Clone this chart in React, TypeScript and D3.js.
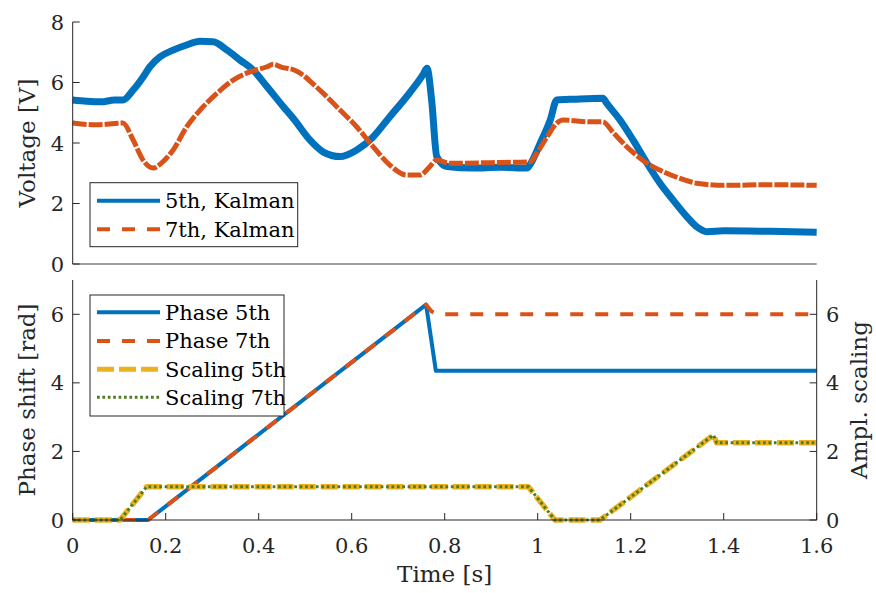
import { useEffect, useRef } from 'react';
import * as d3 from 'd3';

// top panel: voltage estimates (Kalman)
const kalman5Time = [0, 0.03, 0.06, 0.09, 0.108, 0.13, 0.15, 0.166, 0.188, 0.216, 0.245, 0.274, 0.302, 0.332, 0.36, 0.388, 0.418, 0.453, 0.475, 0.51, 0.539, 0.575, 0.611, 0.646, 0.682, 0.718, 0.753, 0.762, 0.772, 0.783, 0.805, 0.86, 0.92, 0.977, 0.984, 1.005, 1.027, 1.041, 1.08, 1.14, 1.149, 1.177, 1.205, 1.235, 1.263, 1.291, 1.321, 1.342, 1.364, 1.4, 1.5, 1.6];
const kalman5 = [5.42, 5.38, 5.36, 5.42, 5.42, 5.75, 6.15, 6.52, 6.85, 7.07, 7.24, 7.36, 7.35, 7.07, 6.74, 6.41, 5.86, 5.2, 4.8, 4.1, 3.7, 3.55, 3.77, 4.2, 4.87, 5.53, 6.25, 6.47, 5.4, 3.55, 3.22, 3.17, 3.2, 3.17, 3.3, 3.98, 4.76, 5.42, 5.45, 5.48, 5.3, 4.76, 4.1, 3.33, 2.67, 2.12, 1.56, 1.23, 1.07, 1.1, 1.08, 1.05];

const kalman7Time = [0, 0.05, 0.108, 0.13, 0.151, 0.173, 0.188, 0.216, 0.245, 0.274, 0.31, 0.345, 0.381, 0.418, 0.431, 0.45, 0.475, 0.495, 0.515, 0.539, 0.575, 0.611, 0.646, 0.682, 0.718, 0.747, 0.768, 0.783, 0.81, 0.9, 0.984, 0.998, 1.02, 1.041, 1.055, 1.113, 1.14, 1.163, 1.199, 1.235, 1.27, 1.306, 1.342, 1.4, 1.5, 1.6];
const kalman7 = [4.66, 4.6, 4.66, 4.1, 3.44, 3.17, 3.3, 3.77, 4.53, 5.09, 5.64, 6.08, 6.35, 6.52, 6.6, 6.5, 6.42, 6.25, 5.98, 5.64, 5.09, 4.53, 3.88, 3.27, 2.94, 2.94, 3.22, 3.44, 3.33, 3.35, 3.38, 3.66, 4.2, 4.66, 4.76, 4.7, 4.7, 4.33, 3.77, 3.33, 3.05, 2.83, 2.67, 2.6, 2.62, 2.6];

// bottom panel: phase shift and amplitude scaling
const phase5Time = [0, 0.162, 0.76, 0.781, 1.6];
const phase5 = [0, 0, 6.28, 4.35, 4.35];
const phase7Time = [0, 0.162, 0.76, 0.772, 0.785, 1.6];
const phase7 = [0, 0, 6.28, 6.08, 6.0, 6.0];
const scalingTime = [0, 0.102, 0.159, 0.98, 1.037, 1.134, 1.378, 1.385, 1.6];
const scaling5 = [0, 0, 0.97, 0.97, 0, 0, 2.48, 2.25, 2.25];
const scaling7 = [0, 0, 0.97, 0.97, 0, 0, 2.48, 2.25, 2.25];

const xTicks = [0, 0.2, 0.4, 0.6, 0.8, 1, 1.2, 1.4, 1.6];
const voltTicks = [0, 2, 4, 6, 8];
const phaseTicks = [0, 2, 4, 6];

const FONT = '"DejaVu Serif", serif';
const AX = '#262626';

type Series = { label: string; t: number[]; v: number[]; color: string; width: number; dash?: string; legendDash?: string; smooth?: boolean };

export default function App() {
  const svgRef = useRef<SVGSVGElement>(null);

  useEffect(() => {
    document.body.style.margin = '0';
    if (!svgRef.current) return;
    const svg = d3.select(svgRef.current);
    svg.selectAll('*').remove();

    const x = d3.scaleLinear().domain([0, 1.6]).range([72.7, 816.7]);
    const yTop = d3.scaleLinear().domain([0, 8]).range([264, 22]);
    const yBot = d3.scaleLinear().domain([0, 7]).range([520, 280]);

    const drawSeries = (yScale: d3.ScaleLinear<number, number>, s: Series) => {
      const pts = s.t.map((t, i) => [t, s.v[i]] as [number, number]);
      const line = d3.line<[number, number]>()
        .x(d => x(d[0])).y(d => yScale(d[1]))
        .curve(s.smooth ? d3.curveMonotoneX : d3.curveLinear);
      svg.append('path')
        .attr('d', line(pts) as string)
        .attr('fill', 'none')
        .attr('stroke', s.color)
        .attr('stroke-width', s.width)
        .attr('stroke-linejoin', 'round')
        .attr('stroke-dasharray', s.dash ?? null);
    };

    const legend = (x0: number, y0: number, w: number, h: number, rows: number[], items: Series[]) => {
      svg.append('rect')
        .attr('x', x0).attr('y', y0).attr('width', w).attr('height', h)
        .attr('fill', '#fff').attr('stroke', AX).attr('stroke-width', 1);
      items.forEach((s, i) => {
        svg.append('line')
          .attr('x1', 97).attr('x2', 160).attr('y1', rows[i]).attr('y2', rows[i])
          .attr('stroke', s.color).attr('stroke-width', Math.min(s.width, 5))
          .attr('stroke-dasharray', s.legendDash ?? s.dash ?? null);
        svg.append('text')
          .attr('x', 165).attr('y', rows[i]).attr('dy', '0.35em')
          .style('font-family', FONT).style('font-size', '21px').attr('fill', '#000')
          .text(s.label);
      });
    };

    // ---------- top panel ----------
    const topSeries: Series[] = [
      { label: '5th, Kalman', t: kalman5Time, v: kalman5, color: '#0072BD', width: 7, smooth: true },
      { label: '7th, Kalman', t: kalman7Time, v: kalman7, color: '#D95319', width: 5, dash: '14,2', legendDash: '13,12', smooth: true },
    ];
    topSeries.forEach(s => drawSeries(yTop, s));

    svg.append('line').attr('x1', x(0)).attr('x2', x(1.6)).attr('y1', yTop(0)).attr('y2', yTop(0))
      .attr('stroke', '#808080').attr('stroke-width', 1.3);
    svg.append('line').attr('x1', x(0)).attr('x2', x(0)).attr('y1', yTop(0)).attr('y2', yTop(8))
      .attr('stroke', AX).attr('stroke-width', 1);
    voltTicks.forEach(v => {
      svg.append('line').attr('x1', x(0)).attr('x2', x(0) + 7).attr('y1', yTop(v)).attr('y2', yTop(v))
        .attr('stroke', AX);
      svg.append('text').attr('x', 64).attr('y', yTop(v)).attr('dy', '0.36em').attr('text-anchor', 'end')
        .style('font-family', FONT).style('font-size', '21px').attr('fill', AX).text(v);
    });
    svg.append('text')
      .attr('transform', `translate(35, ${(yTop(0) + yTop(8)) / 2}) rotate(-90)`)
      .attr('text-anchor', 'middle')
      .style('font-family', FONT).style('font-size', '23px').attr('fill', AX)
      .text('Voltage [V]');

    legend(90, 182.7, 207.7, 64, [200.7, 229.3], topSeries.map(s => ({ ...s, width: 4 })));

    // ---------- bottom panel ----------
    const botSeries: Series[] = [
      { label: 'Phase 5th', t: phase5Time, v: phase5, color: '#0072BD', width: 4 },
      { label: 'Phase 7th', t: phase7Time, v: phase7, color: '#D95319', width: 4, dash: '13,12' },
      { label: 'Scaling 5th', t: scalingTime, v: scaling5, color: '#EDB120', width: 5.5, dash: '17,5' },
      { label: 'Scaling 7th', t: scalingTime, v: scaling7, color: '#4B7D1F', width: 3, dash: '2.7,2.7' },
    ];
    botSeries.forEach(s => drawSeries(yBot, s));

    svg.append('line').attr('x1', x(0)).attr('x2', x(1.6)).attr('y1', yBot(0)).attr('y2', yBot(0))
      .attr('stroke', AX).attr('stroke-width', 1);
    [x(0), x(1.6)].forEach(px => {
      svg.append('line').attr('x1', px).attr('x2', px).attr('y1', yBot(0)).attr('y2', yBot(7))
        .attr('stroke', AX).attr('stroke-width', 1);
    });
    xTicks.forEach(t => {
      svg.append('line').attr('x1', x(t)).attr('x2', x(t)).attr('y1', yBot(0)).attr('y2', yBot(0) - 7)
        .attr('stroke', AX);
      svg.append('text').attr('x', x(t)).attr('y', 553).attr('text-anchor', 'middle')
        .style('font-family', FONT).style('font-size', '21px').attr('fill', AX).text(t);
    });
    phaseTicks.forEach(v => {
      svg.append('line').attr('x1', x(0)).attr('x2', x(0) + 7).attr('y1', yBot(v)).attr('y2', yBot(v))
        .attr('stroke', AX);
      svg.append('line').attr('x1', x(1.6)).attr('x2', x(1.6) - 7).attr('y1', yBot(v)).attr('y2', yBot(v))
        .attr('stroke', AX);
      svg.append('text').attr('x', 64).attr('y', yBot(v)).attr('dy', '0.36em').attr('text-anchor', 'end')
        .style('font-family', FONT).style('font-size', '21px').attr('fill', AX).text(v);
      svg.append('text').attr('x', 826).attr('y', yBot(v)).attr('dy', '0.36em').attr('text-anchor', 'start')
        .style('font-family', FONT).style('font-size', '21px').attr('fill', AX).text(v);
    });
    svg.append('text')
      .attr('transform', `translate(35, ${(yBot(0) + yBot(7)) / 2}) rotate(-90)`)
      .attr('text-anchor', 'middle')
      .style('font-family', FONT).style('font-size', '23px').attr('fill', AX)
      .text('Phase shift [rad]');
    svg.append('text')
      .attr('transform', `translate(867, ${(yBot(0) + yBot(7)) / 2}) rotate(-90)`)
      .attr('text-anchor', 'middle')
      .style('font-family', FONT).style('font-size', '23px').attr('fill', AX)
      .text('Ampl. scaling');
    svg.append('text')
      .attr('x', x(0.8)).attr('y', 582).attr('text-anchor', 'middle')
      .style('font-family', FONT).style('font-size', '23px').attr('fill', AX)
      .text('Time [s]');

    legend(90, 295, 194, 121, [312.3, 341, 369.3, 397.3], botSeries);
  }, []);

  return <svg ref={svgRef} width={876} height={593} style={{ display: 'block', background: '#fff' }} />;
}
